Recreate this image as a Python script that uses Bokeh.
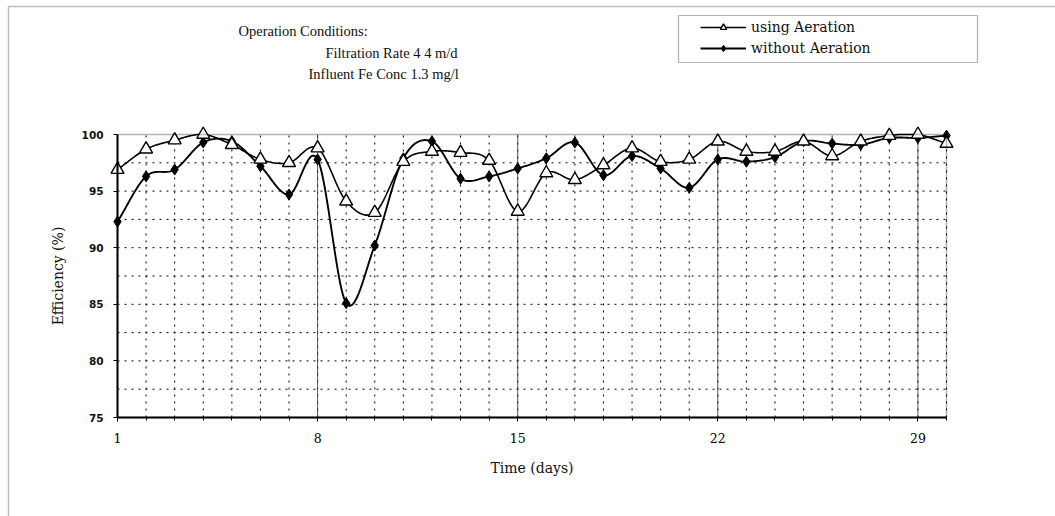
import numpy as np
from bokeh.plotting import figure
from bokeh.models import (Range1d, FixedTicker, SingleIntervalTicker, Label,
                          Legend, LegendItem, BoxAnnotation)
from bokeh.embed import file_html
from bokeh.resources import INLINE

# ---- data: removal efficiency (%) per day --------------------------------
days = list(range(1, 31))
with_aeration = [96.9, 98.7, 99.5, 100.0, 99.1, 97.8, 97.5, 98.8, 94.1, 93.1,
                 97.6, 98.5, 98.4, 97.7, 93.2, 96.6, 96.0, 97.3, 98.8, 97.6,
                 97.8, 99.4, 98.5, 98.5, 99.4, 98.1, 99.4, 99.9, 100.0, 99.2]
without_aeration = [92.3, 96.3, 96.9, 99.3, 99.4, 97.2, 94.7, 97.8, 85.1, 90.2,
                    97.9, 99.4, 96.1, 96.3, 97.0, 97.9, 99.3, 96.4, 98.1, 97.0,
                    95.3, 97.8, 97.6, 98.0, 99.4, 99.2, 99.1, 99.7, 99.7, 99.9]
x_tick_days = [1, 8, 15, 22, 29]
series_names = ["using Aeration", "without Aeration"]
header_lines = ["Operation Conditions:",
                "Filtration Rate 4 4 m/d",
                "Influent Fe Conc  1.3 mg/l"]

# ---- canvas geometry (pixels) ---------------------------------------------
W, H = 1055, 516
LEFT, RIGHT, TOP, BOTTOM = 117, 946, 134, 417
X0, X1, Y0, Y1 = 1, 30, 75, 100
Y_GRID_STEP = 2.5


def px_to_x(px):
    return X0 + (px - LEFT) * (X1 - X0) / (RIGHT - LEFT)


def py_to_y(py):
    return Y0 + (BOTTOM - py) * (Y1 - Y0) / (BOTTOM - TOP)


def smooth_path(xs, ys, steps=20):
    """Catmull-Rom curve through the points (spreadsheet-style smoothed line)."""
    xs = np.asarray(xs, float)
    ys = np.asarray(ys, float)
    px = np.concatenate([[2 * xs[0] - xs[1]], xs, [2 * xs[-1] - xs[-2]]])
    py = np.concatenate([[2 * ys[0] - ys[1]], ys, [2 * ys[-1] - ys[-2]]])
    out_x, out_y = [], []
    t = np.linspace(0, 1, steps, endpoint=False)
    for i in range(1, len(px) - 2):
        for arr, out in ((px, out_x), (py, out_y)):
            p0, p1, p2, p3 = arr[i - 1], arr[i], arr[i + 1], arr[i + 2]
            c = 0.5 * ((2 * p1) + (-p0 + p2) * t
                       + (2 * p0 - 5 * p1 + 4 * p2 - p3) * t ** 2
                       + (-p0 + 3 * p1 - 3 * p2 + p3) * t ** 3)
            out.extend(c.tolist())
    out_x.append(float(xs[-1]))
    out_y.append(float(ys[-1]))
    # keep the curve inside the plotting box
    return out_x, np.minimum(out_y, Y1).tolist()


# The frame spans the whole canvas; the chart box is placed inside it by
# choosing the ranges, so the header, legend and page rule can be drawn too.
p = figure(width=W, height=H,
           x_range=Range1d(px_to_x(0), px_to_x(W)),
           y_range=Range1d(py_to_y(H), py_to_y(0)),
           output_backend="svg", toolbar_location=None, title_location=None,
           min_border=0)
p.background_fill_color = "white"
p.border_fill_color = "white"
p.outline_line_color = None
p.grid.visible = False

# ---- axes pinned to the chart box -----------------------------------------
p.xaxis.ticker = FixedTicker(ticks=x_tick_days, minor_ticks=days)
p.yaxis.ticker = SingleIntervalTicker(interval=5, num_minor_ticks=0)
p.xaxis.fixed_location = Y0
p.yaxis.fixed_location = X0
p.xaxis.bounds = (X0, X1)
p.yaxis.bounds = (Y0, Y1)

for ax in (p.xaxis, p.yaxis):
    ax.axis_line_color = "black"
    ax.axis_line_width = 2
    ax.major_tick_line_color = "black"
    ax.major_tick_in = 0
    ax.major_tick_out = 4
    ax.major_label_text_color = "#111111"
    ax.axis_label_text_color = "#111111"
    ax.axis_label_text_font_style = "normal"

p.xaxis.minor_tick_line_color = "black"
p.xaxis.minor_tick_in = 0
p.xaxis.minor_tick_out = 3
p.yaxis.minor_tick_line_color = None

p.xaxis.major_label_text_font = "DejaVu Serif"
p.xaxis.major_label_text_font_size = "12.5px"
p.xaxis.major_label_text_color = "black"
p.xaxis.major_label_standoff = 11
p.xaxis.axis_label = "Time (days)"
p.xaxis.axis_label_text_font = "DejaVu Serif"
p.xaxis.axis_label_text_font_size = "14px"
p.xaxis.axis_label_standoff = 14

p.yaxis.major_label_text_font = "DejaVu Sans"
p.yaxis.major_label_text_font_style = "bold"
p.yaxis.major_label_text_font_size = "10.5px"
p.yaxis.major_label_standoff = 10
p.yaxis.axis_label = "Efficiency (%)"
p.yaxis.axis_label_text_font = "DejaVu Serif"
p.yaxis.axis_label_text_font_size = "14px"
p.yaxis.axis_label_standoff = 13

# ---- grid inside the chart box ---------------------------------------------
n_days = len(days)
p.segment(x0=days, y0=[Y0] * n_days, x1=days, y1=[Y1] * n_days,
          line_color="black", line_dash="2 5", line_width=1)
y_levels = np.arange(Y0 + Y_GRID_STEP, Y1, Y_GRID_STEP).tolist()
p.segment(x0=[X0] * len(y_levels), y0=y_levels, x1=[X1] * len(y_levels), y1=y_levels,
          line_color="black", line_dash="2 5", line_width=1)
p.segment(x0=x_tick_days[1:], y0=[Y0] * 4, x1=x_tick_days[1:], y1=[Y1] * 4,
          line_color="#333333", line_width=1, line_alpha=0.8)
p.add_layout(BoxAnnotation(left=X0, right=X1, bottom=Y0, top=Y1,
                           fill_alpha=0, line_color="black", line_width=1.5))

# ---- series ----------------------------------------------------------------
ax_, ay_ = smooth_path(days, with_aeration)
bx_, by_ = smooth_path(days, without_aeration)

line_a = p.line(ax_, ay_, line_color="black", line_width=1.6)
line_b = p.line(bx_, by_, line_color="black", line_width=1.9)
dots_b = p.scatter(days, without_aeration, marker="diamond", size=11,
                   fill_color="black", line_color="black")
dots_a = p.scatter(days, with_aeration, marker="triangle", size=13,
                   fill_color="white", line_color="black", line_width=1.4)

# ---- legend (drawn box + borderless legend inside it) ----------------------
p.add_layout(BoxAnnotation(left=px_to_x(678), right=px_to_x(977),
                           top=py_to_y(15), bottom=py_to_y(62),
                           fill_alpha=0, line_color="black", line_width=1.2))
legend = Legend(items=[LegendItem(label=series_names[0], renderers=[line_a, dots_a]),
                       LegendItem(label=series_names[1], renderers=[line_b, dots_b])],
                location=(697, H - 59),
                padding=3, spacing=5, glyph_width=46, glyph_height=16,
                label_height=16, label_standoff=5,
                label_text_font="DejaVu Serif", label_text_font_size="14px",
                label_text_color="#111111",
                border_line_alpha=0, background_fill_alpha=0)
p.add_layout(legend)

# ---- header text -----------------------------------------------------------
for text, left_px, mid_px in zip(header_lines, (238, 325, 308), (30, 52, 73)):
    p.add_layout(Label(x=px_to_x(left_px), y=py_to_y(mid_px), text=text,
                       text_font="Liberation Serif", text_font_size="14.5px",
                       text_color="#111111", text_baseline="middle",
                       text_align="left"))

# ---- page rule (top and left) ----------------------------------------------
p.add_layout(BoxAnnotation(left=px_to_x(8), right=px_to_x(W + 50),
                           top=py_to_y(6), bottom=py_to_y(H + 50),
                           fill_alpha=0, line_color="#222222", line_width=1.5))

open("out.html", "w").write(file_html(p, INLINE))
